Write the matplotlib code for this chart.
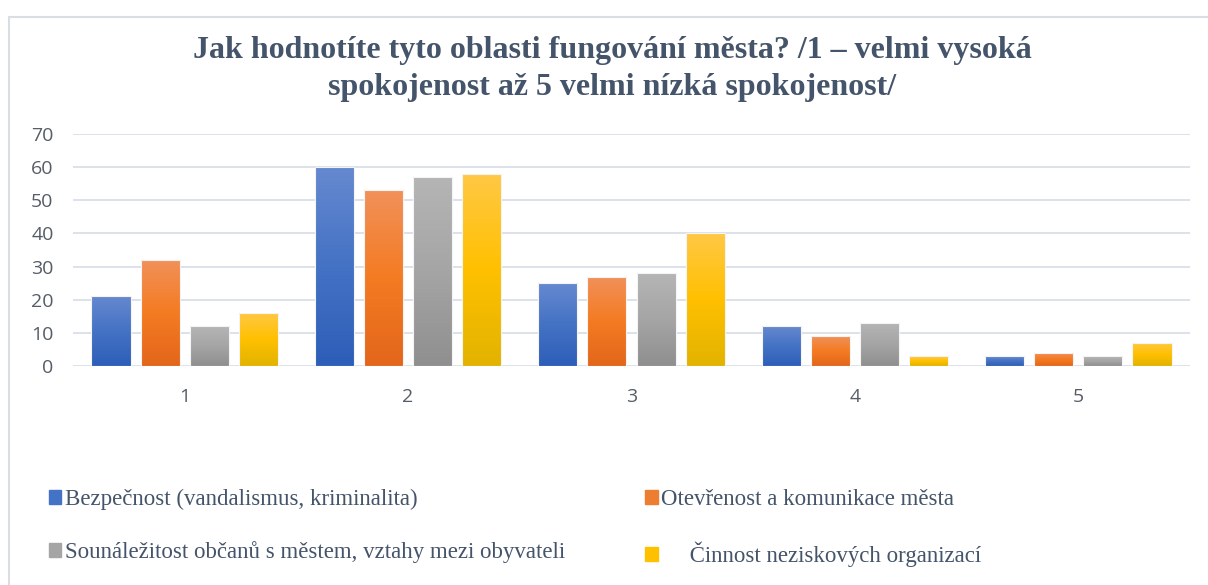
import numpy as np
import matplotlib
matplotlib.use('Agg')
import matplotlib.pyplot as plt
from matplotlib.colors import LinearSegmentedColormap
from matplotlib.patches import Rectangle

categories = ['1', '2', '3', '4', '5']
series_names = ['Bezpečnost (vandalismus, kriminalita)',
                'Otevřenost a komunikace města',
                'Sounáležitost občanů s městem, vztahy mezi obyvateli',
                '     Činnost neziskových organizací']
bezpecnost = [21, 60, 25, 12, 3]
otevrenost = [32, 53, 27, 9, 4]
sounalezitost = [12, 57, 28, 13, 3]
cinnost = [16, 58, 40, 3, 7]
yticks = [0, 10, 20, 30, 40, 50, 60, 70]

title = 'Jak hodnotíte tyto oblasti fungování města? /1 – velmi vysoká\nspokojenost až 5 velmi nízká spokojenost/'

# gradient colours (bottom, middle, top) like the office bar style
grads = [('#2d5eb8', '#4472c4', '#6689d0'),
         ('#e3661b', '#f47b22', '#f1915a'),
         ('#8f8f8f', '#a5a5a5', '#b5b5b5'),
         ('#e2b300', '#ffc000', '#ffc846')]
solid = ['#4472c4', '#ed7d31', '#a5a5a5', '#ffc000']

fig = plt.figure(figsize=(12.08, 5.85), dpi=100)
ax = fig.add_axes([73/1208, 1-366/585, 1117/1208, 232/585])

x = np.arange(1, len(categories) + 1)
width = 0.175
step = 0.22
grad = np.linspace(0, 1, 256).reshape(-1, 1)

handles = []
for i, vals in enumerate([bezpecnost, otevrenost, sounalezitost, cinnost]):
    pos = x + (i - 1.5) * step
    bars = ax.bar(pos, vals, width, color='none', edgecolor='#f4f4f4', lw=0.8, zorder=3,
                  label=series_names[i])
    cmap = LinearSegmentedColormap.from_list('g%d' % i, list(grads[i]))
    for b in bars:
        x0, w, h = b.get_x(), b.get_width(), b.get_height()
        im = ax.imshow(grad, extent=[x0, x0 + w, 0, h], origin='lower', cmap=cmap,
                       aspect='auto', zorder=2, interpolation='bilinear')
        im.set_clip_path(b)
    handles.append(Rectangle((0, 0), 1, 1, color=solid[i]))

ax.set_xlim(0.5, 5.5)
ax.set_ylim(0, 70)
ax.set_yticks(yticks)
ax.set_xticks(x)
ax.set_xticklabels(categories)
ax.grid(axis='y', color='#dde2ea', lw=1.4, zorder=0)
ax.set_axisbelow(True)
for s in ax.spines.values():
    s.set_visible(False)
ax.tick_params(length=0, labelsize=14, colors='#555d66')
ax.tick_params(axis='y', pad=14)
ax.tick_params(axis='x', pad=16)
for lab in ax.get_xticklabels() + ax.get_yticklabels():
    lab.set_family('Open Sans')

fig.text(0.507, 1 - 69/585, title, ha='center', va='center', fontsize=23, fontweight='bold',
         family='Liberation Serif', color='#44546a', linespacing=1.32)

# row-wise order for a two-column legend
order = [0, 2, 1, 3]
fig.legend([handles[k] for k in order], [series_names[k] for k in order],
           loc='upper left', bbox_to_anchor=(28/1208, 1-468/585),
           ncol=2, frameon=False, handlelength=0.55, handleheight=0.55, handletextpad=0.15,
           columnspacing=3.5, labelspacing=1.38,
           prop={'family': 'Liberation Serif', 'size': 16.5}, labelcolor='#44546a')

fig.add_artist(Rectangle((9/1208, -0.05), 1.2, 0.971 + 0.05, transform=fig.transFigure,
                         fill=False, edgecolor='#d9dde4', lw=1.5))

fig.savefig('out.png', dpi=100)
